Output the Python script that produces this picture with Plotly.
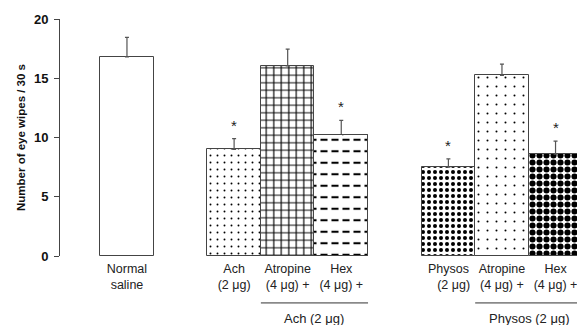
import plotly.graph_objects as go

# ---- data ----
labels = ["Normal<br>saline", "Ach<br>(2 μg)", "Atropine<br>(4 μg) +", "Hex<br>(4 μg) +",
          "Physos<br>\u00a0\u00a0\u00a0(2 μg)", "Atropine<br>(4 μg) +", "Hex<br>(4 μg) +"]
positions = [0, 2, 3, 4, 6, 7, 8]
means = [16.8, 9.0, 16.05, 10.2, 7.5, 15.25, 8.6]
errors = [1.65, 0.9, 1.4, 1.25, 0.7, 0.95, 1.1]
significant = [False, True, False, True, True, False, True]
group_names = ["Ach (2 μg)", "Physos (2 μg)"]
group_spans = [(3, 4), (7, 8)]

# ---- style ----
shapes_pat = ["", ".", "+", "-", ".", ".", "."]
pat_size = [8, 7, 7.5, 11.5, 6, 9, 7]
pat_solid = [0.1, 0.06, 0.28, 0.18, 0.35, 0.04, 0.6]
font = "Liberation Sans, Arial, sans-serif"

fig = go.Figure()
fig.add_trace(go.Bar(
    x=positions, y=means, width=1,
    marker=dict(color="white",
                line=dict(color="#444", width=1),
                pattern=dict(shape=shapes_pat, size=pat_size, solidity=pat_solid,
                             fgcolor="black", bgcolor="white", fgopacity=1,
                             fillmode="replace")),
    error_y=dict(type="data", symmetric=False, array=errors,
                 arrayminus=[0] * len(errors), color="#555", thickness=1.2, width=2),
    showlegend=False, hoverinfo="skip"))

# overlay to cut horizontal lines into dashes on the Hex (Ach) bar
fig.add_trace(go.Bar(
    x=[positions[3]], y=[means[3]], width=1,
    marker=dict(color="rgba(0,0,0,0)",
                line=dict(color="#444", width=1),
                pattern=dict(shape="|", size=11, solidity=0.36,
                             fgcolor="white", fgopacity=1, bgcolor="rgba(0,0,0,0)",
                             fillmode="replace")),
    showlegend=False, hoverinfo="skip"))

annotations = []
for p, m, e, s in zip(positions, means, errors, significant):
    if s:
        annotations.append(dict(x=p, y=m + e + 0.25, xref="x", yref="y", text="*",
                                showarrow=False, yanchor="bottom",
                                font=dict(family=font, size=15, color="#222")))

shapes = []
for (a, b), name in zip(group_spans, group_names):
    shapes.append(dict(type="line", xref="x", yref="paper", x0=a - 0.5, x1=b + 0.5,
                       y0=-0.198, y1=-0.198, line=dict(color="#333", width=1)))
    annotations.append(dict(x=(a + b) / 2, y=-0.262, xref="x", yref="paper", text=name,
                            showarrow=False, yanchor="middle",
                            font=dict(family=font, size=13, color="#222")))

fig.update_layout(
    width=577, height=317,
    margin=dict(l=52, r=0, t=11, b=69),
    paper_bgcolor="white", plot_bgcolor="white",
    barmode="overlay", bargap=0,
    annotations=annotations, shapes=shapes,
    xaxis=dict(range=[-1.25, 8.55], tickvals=positions, ticktext=labels,
               showline=False, showgrid=False, zeroline=False, ticks="",
               ticklabelstandoff=3,
               tickfont=dict(family=font, size=12.5, color="#222")),
    yaxis=dict(range=[0, 20], tickvals=[0, 5, 10, 15, 20],
               showline=True, linecolor="#444", linewidth=1,
               ticks="outside", ticklen=5, tickcolor="#444",
               ticklabelstandoff=3,
               showgrid=False, zeroline=False,
               tickfont=dict(family=font, size=13, color="#111", weight="bold"),
               title=dict(text="Number of eye wipes / 30 s", standoff=5,
                          font=dict(family=font, size=11.5, color="#111", weight="bold"))),
)

fig.write_html("out.html")
